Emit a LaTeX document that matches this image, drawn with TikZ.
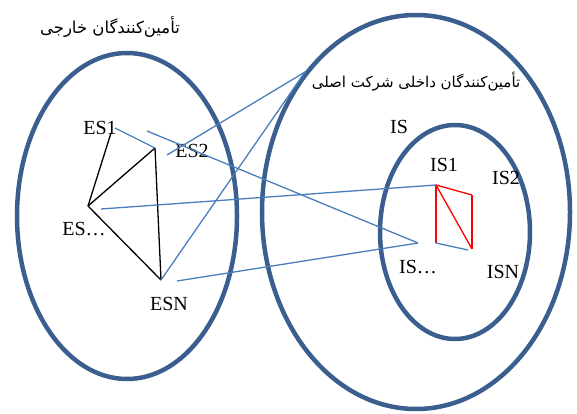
\documentclass[tikz,border=0pt]{standalone}
\usepackage{fontspec}
\setmainfont{Liberation Serif}
\newfontfamily\arabicfont[Script=Arabic]{DejaVu Sans}
\TeXXeTstate=1
\usetikzlibrary{positioning}
\definecolor{ringblue}{HTML}{3A5F8F}
\definecolor{linkblue}{HTML}{4A7EBB}

\begin{document}
\begin{tikzpicture}[x=1pt,y=-1pt,
    ring/.style={draw=ringblue,line width=4.5pt},
    link/.style={draw=linkblue,line width=1.3pt},
    inner/.style={draw=black,line width=1.3pt},
    own/.style={draw=red,line width=1.3pt},
    lbl/.style={font=\fontsize{20}{22}\selectfont,inner sep=0pt},
    fa/.style={font=\arabicfont,inner sep=0pt}]
\useasboundingbox (0,0) rectangle (577,414);

% the three rings
\draw[ring] (127,216) ellipse [x radius=110,y radius=163];
\draw[ring] (416,212) ellipse [x radius=154,y radius=197];
\draw[ring] (455,232) ellipse [x radius=75,y radius=107];

% titles
\node[fa] (outer) at (110,27) {\fontsize{16.5}{18}\selectfont\beginR تأمین‌کنندگان خارجی\endR};
\node[fa] (domestic) at (416,82) {\fontsize{15}{17}\selectfont\beginR تأمین‌کنندگان داخلی شرکت اصلی\endR};

% points
\foreach \name/\px/\py in {es1/111/133, es2/155/148, esd/88/206, esn/161/280,
    is1/436/185, is2/472/195, isn/472/249, isd/436/243} {
    \coordinate (\name) at (\px,\py);
}
\foreach \name/\px/\py in {e1/115/128, e2/147/131, e3/167/155, e4/101/209,
    e5/177/281, top/305/72, isl/418/243, isn2/468/250} {
    \coordinate (\name) at (\px,\py);
}

% labels
\foreach \name/\px/\py/\txt in {les1/100/128/ES1, les2/192/151/ES2, lesd/84/229/ES\ldots,
    lesn/169/304/ESN, lis/399/127/IS, lis1/444/165/IS1, lis2/506/178/IS2,
    lisd/418/267/IS\ldots, lisn/503/272/ISN} {
    \node[lbl] (\name) at (\px,\py) {\txt};
}

% links between suppliers
\foreach \a/\b in {es1/esd, es2/esd, es2/esn, esd/esn} {
    \draw[inner] (\a) -- (\b);
}
\foreach \a/\b in {is1/is2, is2/isn, isn/is1, is1/isd} {
    \draw[own] (\a) -- (\b);
}
\foreach \a/\b in {e1/es2, e2/isl, e3/top, esn/top, e4/is1, e5/isl, isd/isn2} {
    \draw[link] (\a) -- (\b);
}
\end{tikzpicture}
\end{document}
